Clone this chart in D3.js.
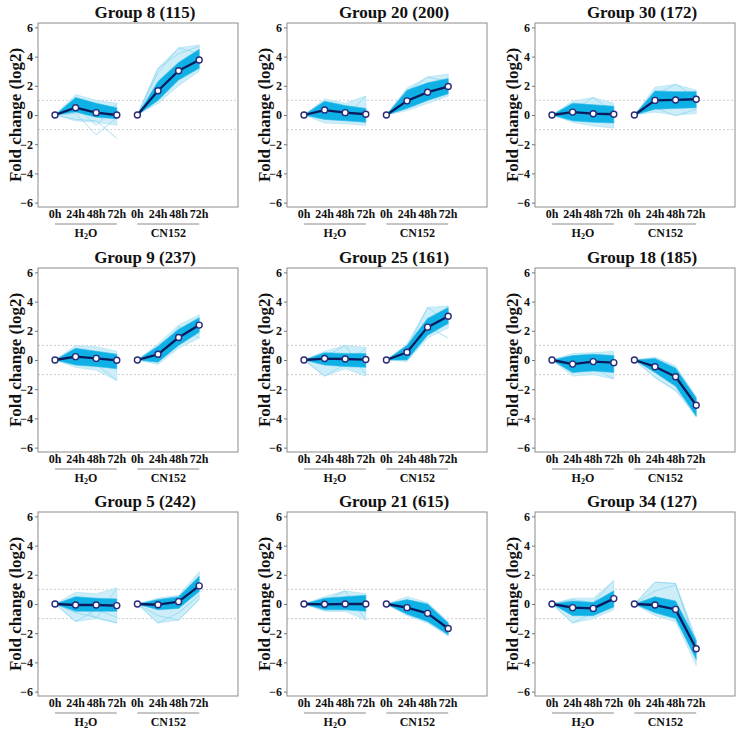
<!DOCTYPE html>
<html>
<head>
<meta charset="utf-8">
<script src="https://cdn.jsdelivr.net/npm/d3@7/dist/d3.min.js"></script>
<style>
  html, body { margin: 0; padding: 0; background: #fff; }
  svg { display: block; }
  svg text { font-family: "Liberation Serif", "DejaVu Serif", serif !important; font-weight: bold; fill: #111; }
</style>
</head>
<body>
<svg id="chart" width="739" height="733"></svg>
<script>
// ---------------- DATA ----------------
const groupNames = ["Group 8 (115)", "Group 20 (200)", "Group 30 (172)",
                    "Group 9 (237)", "Group 25 (161)", "Group 18 (185)",
                    "Group 5 (242)", "Group 21 (615)", "Group 34 (127)"];
const timeLabels = ["0h", "24h", "48h", "72h"];
const treatmentLabels = ["H2O", "CN152"];
const yTicks = [-6, -4, -2, 0, 2, 4, 6];
const thresholds = [1, -1];

// 8 values per group: H2O 0h,24h,48h,72h then CN152 0h,24h,48h,72h
const meanVals = [
  [0, 0.50, 0.16, 0.00, 0, 1.66, 3.03, 3.77],
  [0, 0.34, 0.16, 0.05, 0, 0.97, 1.56, 1.95],
  [0, 0.20, 0.09, 0.05, 0, 1.00, 1.03, 1.08],
  [0, 0.23, 0.11, -0.02, 0, 0.39, 1.54, 2.39],
  [0, 0.10, 0.07, 0.03, 0, 0.53, 2.25, 3.00],
  [0, -0.28, -0.11, -0.18, 0, -0.46, -1.15, -3.10],
  [0, -0.07, -0.07, -0.11, 0, -0.05, 0.16, 1.24],
  [0, -0.02, 0.00, 0.00, 0, -0.25, -0.64, -1.68],
  [0, -0.25, -0.30, 0.37, 0, -0.07, -0.37, -3.06]
];
// dense core of gene profiles (upper / lower edge)
const coreHi = [
  [0, 1.20, 0.80, 0.50, 0, 2.30, 3.60, 4.50],
  [0, 0.95, 0.65, 0.45, 0, 1.70, 2.20, 2.50],
  [0, 0.80, 0.70, 0.60, 0, 1.65, 1.60, 1.60],
  [0, 0.80, 0.60, 0.40, 0, 0.95, 2.10, 2.90],
  [0, 0.50, 0.45, 0.45, 0, 1.00, 2.85, 3.60],
  [0, 0.30, 0.40, 0.30, 0, 0.10, -0.55, -2.60],
  [0, 0.50, 0.40, 0.35, 0, 0.30, 0.50, 1.90],
  [0, 0.40, 0.50, 0.60, 0, 0.30, 0.00, -1.30],
  [0, 0.20, 0.10, 0.90, 0, 0.50, 0.20, -2.50]
];
const coreLo = [
  [0, 0.20, -0.15, -0.25, 0, 1.00, 2.40, 3.20],
  [0, -0.30, -0.40, -0.50, 0, 0.45, 1.00, 1.45],
  [0, -0.40, -0.50, -0.55, 0, 0.40, 0.45, 0.50],
  [0, -0.35, -0.45, -0.60, 0, -0.15, 1.00, 1.90],
  [0, -0.35, -0.45, -0.50, 0, 0.00, 1.70, 2.50],
  [0, -0.85, -0.75, -0.85, 0, -0.85, -1.80, -3.85],
  [0, -0.50, -0.50, -0.50, 0, -0.40, -0.30, 0.85],
  [0, -0.40, -0.40, -0.50, 0, -0.70, -1.20, -2.10],
  [0, -0.80, -0.80, -0.20, 0, -0.60, -1.00, -3.80]
];
// sparse outer spread of gene profiles
const outerHi = [
  [0, 1.40, 1.00, 0.80, 0, 3.20, 4.60, 4.80],
  [0, 1.10, 0.80, 1.30, 0, 1.85, 2.60, 2.80],
  [0, 0.95, 1.20, 0.80, 0, 1.90, 2.10, 1.70],
  [0, 1.00, 0.90, 0.60, 0, 1.10, 2.40, 3.10],
  [0, 0.60, 1.00, 0.85, 0, 1.10, 3.60, 3.70],
  [0, 0.45, 0.50, 0.60, 0, 0.20, -0.40, -2.50],
  [0, 0.80, 0.70, 1.10, 0, 0.40, 0.60, 2.20],
  [0, 0.50, 0.90, 0.70, 0, 0.50, 0.10, -1.20],
  [0, 0.40, 0.40, 1.60, 0, 1.50, 1.40, -2.40]
];
const outerLo = [
  [0, -0.40, -0.50, -0.70, 0, 0.80, 2.00, 3.00],
  [0, -0.55, -0.60, -0.70, 0, 0.30, 0.80, 1.30],
  [0, -0.50, -0.75, -0.90, 0, 0.20, 0.00, 0.10],
  [0, -0.50, -0.70, -1.40, 0, -0.30, 0.80, 1.50],
  [0, -1.10, -0.60, -1.10, 0, -0.10, 1.50, 2.20],
  [0, -1.10, -1.00, -1.30, 0, -1.20, -2.10, -3.90],
  [0, -1.20, -1.00, -1.30, 0, -1.30, -1.10, 0.30],
  [0, -0.50, -0.50, -1.10, 0, -0.80, -1.30, -2.20],
  [0, -1.30, -1.00, -0.40, 0, -0.80, -1.20, -4.20]
];
// individual stray gene profiles (null = not drawn in that treatment)
const N = null;
const strayLines = [
  [[0, 0.10, -1.35, -0.20, N, N, N, N], [0, -0.30, -0.40, -1.60, N, N, N, N], [0, 0.60, -0.70, 0.80, N, N, N, N],
   [N, N, N, N, 0, 2.90, 4.60, 4.20], [N, N, N, N, 0, 3.20, 4.20, 4.70]],
  [[0, 0.20, -0.20, 1.30, N, N, N, N], [N, N, N, N, 0, 1.60, 2.60, 2.30]],
  [[0, 0.30, 1.20, 0.20, N, N, N, N], [N, N, N, N, 0, 1.40, 2.10, 1.20], [N, N, N, N, 0, 0.50, -0.05, 0.40]],
  [[0, 0.10, -0.30, -1.40, N, N, N, N], [N, N, N, N, 0, 0.20, 2.30, 1.50]],
  [[0, -1.10, -0.30, 0.80, N, N, N, N], [0, 0.20, 1.00, -1.00, N, N, N, N],
   [N, N, N, N, 0, 0.80, 3.60, 2.60], [N, N, N, N, 0, 0.40, 2.30, 1.50]],
  [[0, -0.90, -0.50, -1.30, N, N, N, N], [N, N, N, N, 0, -1.20, -2.10, -3.30]],
  [[0, -1.20, -0.40, -0.90, N, N, N, N], [0, 0.20, -1.00, 1.10, N, N, N, N], [0, -0.60, -0.90, -1.30, N, N, N, N],
   [N, N, N, N, 0, -1.30, -0.60, 0.60], [N, N, N, N, 0, -0.80, -1.10, 0.30]],
  [[0, 0.20, 0.90, -1.10, N, N, N, N]],
  [[0, -1.30, -0.60, 0.20, N, N, N, N], [0, 0.30, 0.10, 1.60, N, N, N, N],
   [N, N, N, N, 0, 1.50, 1.40, -3.00], [N, N, N, N, 0, 0.90, 1.30, -2.60]]
];

// ---------------- LAYOUT ----------------
const colX0 = [55, 304, 552];     // pixel of first time point per column
const rowTop = [23, 268, 512];    // top of plot box per row
const step = 20.6;
const boxW = 200, boxH = 184;
const FONT = "'Liberation Serif', 'DejaVu Serif', serif";

const svg = d3.select("#chart");

groupNames.forEach((name, gi) => {
  const c = gi % 3, r = Math.floor(gi / 3);
  const left = colX0[c] - 17;
  const top = rowTop[r];
  const x = d3.scaleLinear().domain([-17 / step, -17 / step + boxW / step]).range([left, left + boxW]);
  const y = d3.scaleLinear().domain([-6.3, 6.3]).range([top + boxH, top]);
  const g = svg.append("g").attr("font-family", FONT);

  // threshold dotted lines
  thresholds.forEach(t => {
    g.append("line")
      .attr("x1", left).attr("x2", left + boxW)
      .attr("y1", y(t)).attr("y2", y(t))
      .attr("stroke", "#cfcfcf").attr("stroke-width", 1)
      .attr("stroke-dasharray", "2,2");
  });

  const idxSets = [[0, 1, 2, 3], [4, 5, 6, 7]];
  const band = (hi, lo) => d3.area()
    .x(i => x(i)).y0(i => y(lo[i])).y1(i => y(hi[i]));

  // outer spread
  idxSets.forEach(ids => {
    g.append("path").attr("d", band(outerHi[gi], outerLo[gi])(ids))
      .attr("fill", "#cdeef9").attr("stroke", "#a6def2").attr("stroke-width", 0.6);
  });
  // stray lines
  const strayLine = d3.line().defined(d => d[1] !== null).x(d => x(d[0])).y(d => y(d[1]));
  strayLines[gi].forEach(vals => {
    g.append("path").attr("d", strayLine(vals.map((v, i) => [i, v])))
      .attr("fill", "none").attr("stroke", "#8fd5f0").attr("stroke-width", 0.8);
  });
  // dense core
  idxSets.forEach(ids => {
    g.append("path").attr("d", band(coreHi[gi], coreLo[gi])(ids))
      .attr("fill", "#0fb0e5").attr("stroke", "#2dbbe9").attr("stroke-width", 0.6);
  });

  // mean profile
  const meanLine = d3.line().x(i => x(i)).y(i => y(meanVals[gi][i]));
  idxSets.forEach(ids => {
    g.append("path").attr("d", meanLine(ids))
      .attr("fill", "none").attr("stroke", "#0b1c5e").attr("stroke-width", 2.3)
      .attr("stroke-linejoin", "round");
  });
  g.selectAll("circle.m").data(d3.range(8)).join("circle")
    .attr("cx", i => x(i)).attr("cy", i => y(meanVals[gi][i])).attr("r", 3)
    .attr("fill", "#fff").attr("stroke", "#2b2a78").attr("stroke-width", 1.4);

  // box
  g.append("rect").attr("x", left).attr("y", top).attr("width", boxW).attr("height", boxH)
    .attr("fill", "none").attr("stroke", "#8c8c8c").attr("stroke-width", 1);

  // y axis
  const ya = g.append("g").attr("transform", `translate(${left},0)`)
    .call(d3.axisLeft(y).tickValues(yTicks).tickSize(3).tickPadding(2));
  ya.attr("font-family", FONT).attr("font-size", 12);
  ya.select(".domain").remove();
  ya.selectAll(".tick line").attr("stroke", "#777");
  ya.selectAll(".tick text").attr("fill", "#111");

  // x labels
  const bottom = top + boxH;
  d3.range(8).forEach(i => {
    g.append("text").attr("x", x(i)).attr("y", bottom + 11)
      .attr("text-anchor", "middle").attr("font-size", 12).text(timeLabels[i % 4]);
  });
  // treatment underline + labels
  idxSets.forEach((ids, t) => {
    g.append("line").attr("x1", x(ids[0])).attr("x2", x(ids[3]))
      .attr("y1", bottom + 17).attr("y2", bottom + 17)
      .attr("stroke", "#8a8a8a").attr("stroke-width", 1);
    const cx = (x(ids[0]) + x(ids[3])) / 2;
    const tl = g.append("text").attr("x", cx).attr("y", bottom + 30)
      .attr("text-anchor", "middle").attr("font-size", 12);
    if (treatmentLabels[t] === "H2O") {
      tl.append("tspan").text("H");
      tl.append("tspan").attr("font-size", 8).attr("dy", 2).text("2");
      tl.append("tspan").attr("dy", -2).text("O");
    } else {
      tl.text(treatmentLabels[t]);
    }
  });

  // title
  g.append("text").attr("x", colX0[c] + 90).attr("y", top - 5)
    .attr("text-anchor", "middle").attr("font-size", 17).text(name);

  // y label
  g.append("text")
    .attr("transform", `translate(${left - 17},${top + boxH / 2}) rotate(-90)`)
    .attr("text-anchor", "middle").attr("font-size", 17).text("Fold change (log2)");
});
</script>
</body>
</html>
